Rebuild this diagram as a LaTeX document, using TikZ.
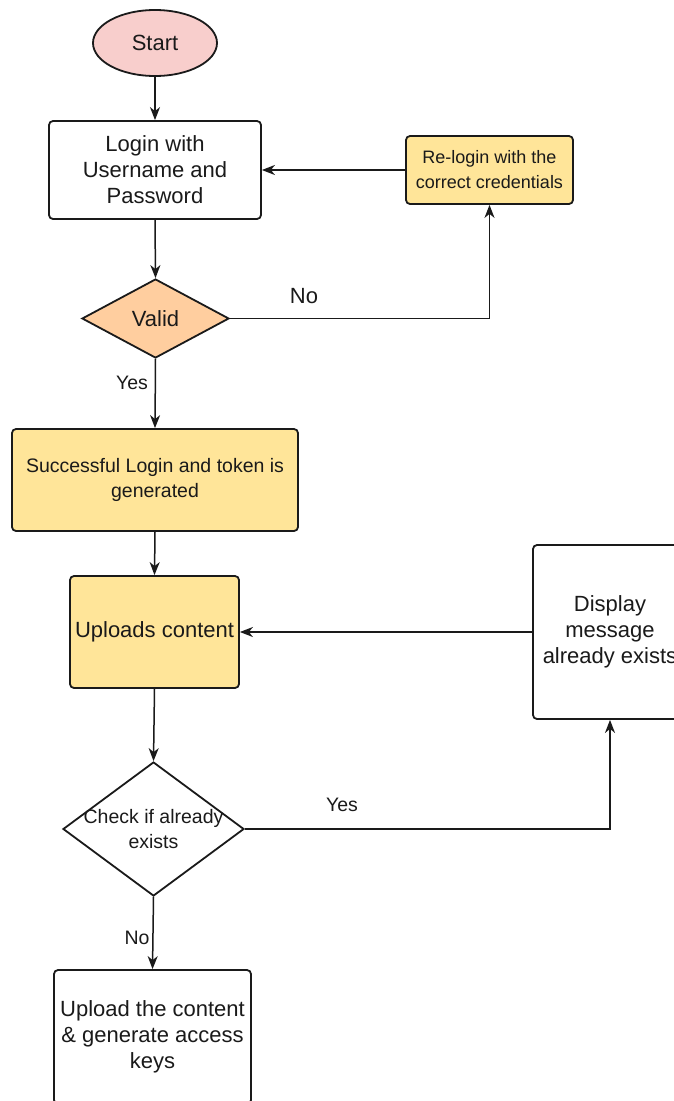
\documentclass[tikz,border=0pt]{standalone}
\usepackage{fontspec}
\setmainfont{Liberation Sans}
\usetikzlibrary{shapes.geometric,arrows.meta}
\definecolor{pinkfill}{HTML}{F8CECC}
\definecolor{peachfill}{HTML}{FFCE9F}
\definecolor{yellowfill}{HTML}{FFE599}
\definecolor{inkcol}{HTML}{1A1A1A}
\tikzset{
  box/.style={rectangle, rounded corners=4pt, draw=inkcol, line width=1.8pt, fill=white, align=center, inner sep=0pt, text=inkcol},
  yellowbox/.style={box, fill=yellowfill},
  decision/.style={diamond, draw=inkcol, line width=1.8pt, inner sep=0pt, text=inkcol},
  startnode/.style={ellipse, draw=inkcol, line width=1.8pt, fill=pinkfill, inner sep=0pt, text=inkcol},
  arr/.style={draw=inkcol, line width=1.5pt, -{Stealth[length=13pt,width=10pt,inset=4pt]}},
  lbl/.style={text=inkcol, inner sep=0pt},
  big/.style={font=\fontsize{22}{26}\selectfont},
  mid/.style={font=\fontsize{19.5}{25}\selectfont},
  small/.style={font=\fontsize{18}{25}\selectfont},
}
\begin{document}
\begin{tikzpicture}[x=1pt,y=1pt]
\useasboundingbox (0,0) rectangle (673,-1101);
\fill[white] (0,0) rectangle (673,-1101);

\node[startnode, big, minimum width=124, minimum height=66] (start) at (155,-43) {Start};
\node[box, big, minimum width=212, minimum height=98] (login) at (155,-170) {Login with\\Username and\\Password};
\node[yellowbox, small, minimum width=167, minimum height=68] (relogin) at (489.5,-170) {Re-login with the\\correct credentials};
\node[decision, fill=peachfill, minimum width=147, minimum height=79, label={[lbl,big]center:Valid}] (valid) at (155.5,-318.5) {};
\node[yellowbox, mid, minimum width=286, minimum height=102] (success) at (155,-480) {Successful Login and token is\\generated};
\node[yellowbox, big, minimum width=169, minimum height=112] (uploads) at (154.5,-632) {Uploads content};
\node[box, big, minimum width=154, minimum height=174] (display) at (610,-632) {Display\\message\\already exists};
\node[decision, fill=white, minimum width=181, minimum height=134, label={[lbl,mid,align=center]center:Check if already\\exists}] (check) at (153.5,-829) {};
\node[box, big, minimum width=197, minimum height=134] (upload) at (152.5,-1037) {Upload the content\\\& generate access\\keys};

\draw[arr] (start.south) -- (login.north);
\draw[arr] (login.south) -- (valid.north);
\draw[arr] (valid.east) -| (relogin.south);
\draw[arr] (relogin.west) -- (login.east);
\draw[arr] (valid.south) -- (success.north);
\draw[arr] (success.south) -- (uploads.north);
\draw[arr] (display.west) -- (uploads.east);
\draw[arr] (uploads.south) -- (check.north);
\draw[arr] (check.east) -| (display.south);
\draw[arr] (check.south) -- (upload.north);

\node[lbl, big] (lno) at (304,-296) {No};
\node[lbl, mid] (lyes) at (132,-383) {Yes};
\node[lbl, mid] (lyes2) at (342,-805) {Yes};
\node[lbl, mid] (lno2) at (137,-938) {No};
\end{tikzpicture}
\end{document}
